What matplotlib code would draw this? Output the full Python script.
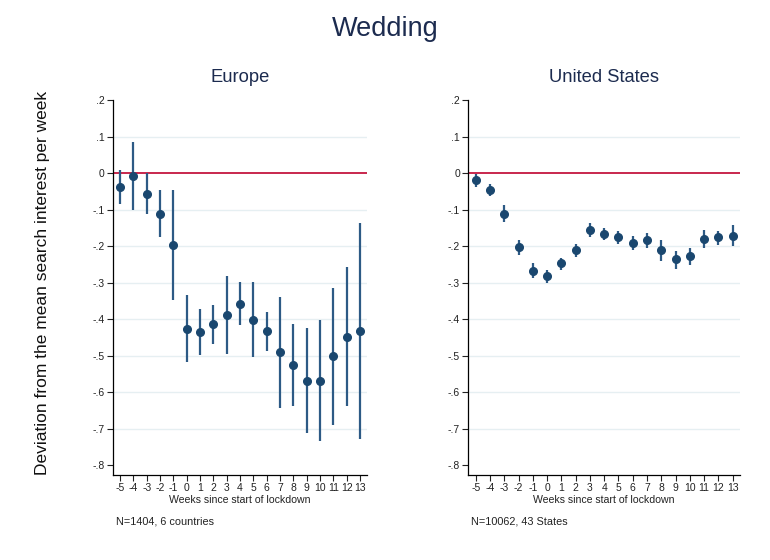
import numpy as np
import matplotlib
matplotlib.use('Agg')
import matplotlib.pyplot as plt
from matplotlib.ticker import FixedLocator

plt.rcParams['font.family'] = ['Liberation Sans', 'DejaVu Sans']

# data
weeks = list(range(-5, 14))

eu_coef = [-0.036, -0.008, -0.056, -0.110, -0.195, -0.426, -0.435, -0.414, -0.387, -0.358,
           -0.401, -0.433, -0.491, -0.526, -0.568, -0.568, -0.502, -0.448, -0.432]
eu_hi = [0.010, 0.086, 0.001, -0.045, -0.045, -0.333, -0.372, -0.361, -0.280, -0.297,
         -0.298, -0.379, -0.340, -0.413, -0.425, -0.401, -0.314, -0.258, -0.136]
eu_lo = [-0.083, -0.101, -0.110, -0.174, -0.346, -0.517, -0.497, -0.468, -0.495, -0.416,
         -0.503, -0.488, -0.643, -0.638, -0.711, -0.733, -0.689, -0.638, -0.727]

us_coef = [-0.019, -0.045, -0.110, -0.202, -0.267, -0.281, -0.247, -0.210, -0.154, -0.166,
           -0.174, -0.191, -0.183, -0.211, -0.236, -0.227, -0.179, -0.175, -0.172]
us_hi = [-0.001, -0.028, -0.088, -0.182, -0.247, -0.264, -0.231, -0.193, -0.136, -0.151,
         -0.158, -0.173, -0.163, -0.182, -0.213, -0.205, -0.154, -0.158, -0.142]
us_lo = [-0.037, -0.063, -0.133, -0.224, -0.288, -0.301, -0.266, -0.229, -0.174, -0.182,
         -0.193, -0.209, -0.204, -0.240, -0.262, -0.251, -0.204, -0.195, -0.200]

yticks = [0.2, 0.1, 0, -0.1, -0.2, -0.3, -0.4, -0.5, -0.6, -0.7, -0.8]
ytick_labels = ['.2', '.1', '0', '-.1', '-.2', '-.3', '-.4', '-.5', '-.6', '-.7', '-.8']

navy = '#1a476f'
bar_col = '#2d5a85'
red = '#c4163f'
grid_col = '#e6eff2'
text_col = '#1c2b4f'

fig = plt.figure(figsize=(7.7, 5.6), dpi=100)


def panel(pos, title, coef, lo, hi, note):
    ax = fig.add_axes(pos)
    x = np.array(weeks)
    c = np.array(coef)
    err = [c - np.array(lo), np.array(hi) - c]

    # light grid lines, red zero line
    for v in yticks:
        if v in (0.2, -0.8):
            continue
        if v == 0:
            ax.axhline(0, color=red, lw=1.3, zorder=1)
        else:
            ax.axhline(v, color=grid_col, lw=1.0, zorder=0)

    ax.errorbar(x, c, yerr=err, fmt='none', ecolor=bar_col, elinewidth=1.6,
                capsize=0, zorder=2)
    ax.plot(x, c, 'o', color=navy, ms=5.5, zorder=3)

    ax.set_xlim(-5.52, 13.52)
    ax.set_ylim(-0.827, 0.2)
    ax.xaxis.set_major_locator(FixedLocator(weeks))
    ax.set_xticklabels([str(w) for w in weeks])
    ax.set_yticks(yticks)
    ax.set_yticklabels(ytick_labels)
    ax.tick_params(axis='both', labelsize=7.5, length=4, width=0.8, pad=2,
                   colors='#222222')
    ax.spines['top'].set_visible(False)
    ax.spines['right'].set_visible(False)
    ax.spines['left'].set_linewidth(0.9)
    ax.spines['bottom'].set_linewidth(0.9)
    ax.set_xlabel('Weeks since start of lockdown', fontsize=7.6, labelpad=1,
                  color='#222222')
    ax.set_title(title, fontsize=13.2, color=text_col, pad=13)
    ax.text(0.01, -0.125, note, transform=ax.transAxes, fontsize=7.8,
            color='#222222', ha='left', va='center')
    return ax


panel([0.1468, 0.1518, 0.3299, 0.6688], 'Europe', eu_coef, eu_lo, eu_hi,
      'N=1404, 6 countries')
panel([0.6082, 0.1518, 0.3529, 0.6688], 'United States', us_coef, us_lo, us_hi,
      'N=10062, 43 States')

fig.text(0.5, 0.949, 'Wedding', fontsize=19.5, color=text_col, ha='center', va='center')
fig.text(0.055, 0.495, 'Deviation from the mean search interest per week',
         fontsize=12.5, rotation=90, ha='center', va='center', color='#111111')

fig.savefig('out.png', dpi=100)
